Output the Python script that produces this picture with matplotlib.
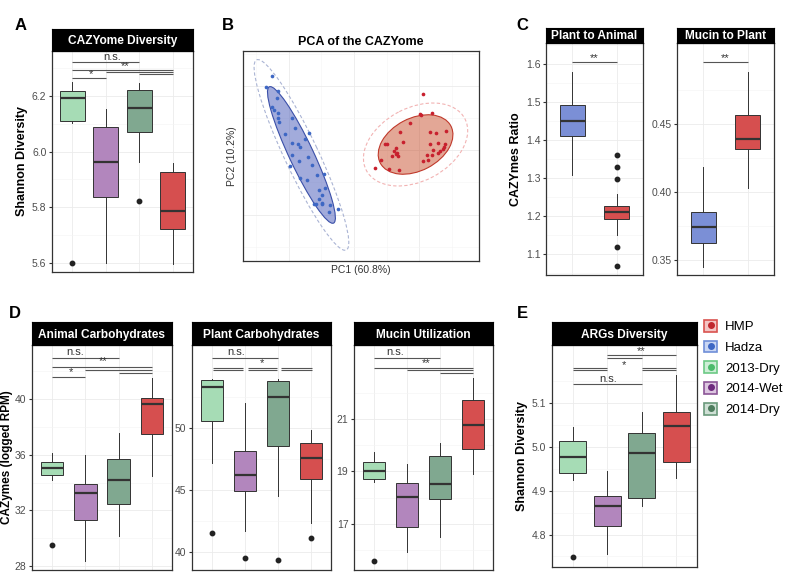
import numpy as np
import matplotlib
matplotlib.use('Agg')
import matplotlib.pyplot as plt
from matplotlib.patches import Ellipse, Patch
from matplotlib.lines import Line2D
from matplotlib.legend_handler import HandlerTuple

plt.rcParams['font.family'] = ['Liberation Sans', 'DejaVu Sans']

# ---- data ----
groups = ['2013-Dry', '2014-Wet', '2014-Dry', 'HMP']
group_colors = ['#a6dcb5', '#b286bd', '#80a890', '#d64f4f']
pair_colors = ['#7b8fd6', '#d64f4f']  # Hadza, HMP

# box stats: (whisker low, q1, median, q3, whisker high)
A_box = [(6.104, 6.110, 6.194, 6.218, 6.250), (5.600, 5.837, 5.963, 6.090, 6.153),
         (5.962, 6.070, 6.157, 6.220, 6.247), (5.595, 5.720, 5.785, 5.926, 5.958)]
A_out = [[5.599], [], [5.820], []]

C1_box = [(1.307, 1.411, 1.449, 1.493, 1.578), (1.151, 1.193, 1.211, 1.228, 1.258)]
C1_out = [[], [1.361, 1.328, 1.298, 1.118, 1.069]]
C2_box = [(0.3454, 0.3625, 0.3744, 0.3852, 0.4187), (0.4033, 0.4314, 0.4392, 0.4568, 0.4877)]
C2_out = [[], []]

D1_box = [(34.18, 34.54, 35.02, 35.50, 36.10), (28.38, 31.31, 33.27, 33.87, 35.98),
          (30.16, 32.46, 34.16, 35.69, 37.58), (34.47, 37.49, 39.62, 40.10, 41.53)]
D1_out = [[29.49], [], [], []]
D2_box = [(47.15, 50.51, 53.25, 53.87, 53.92), (41.68, 44.91, 46.24, 48.13, 51.95),
          (44.53, 48.56, 52.48, 53.73, 53.95), (42.35, 45.87, 47.55, 48.80, 49.81)]
D2_out = [[41.57], [39.55], [39.41], [41.15]]
D3_box = [(18.60, 18.69, 19.02, 19.34, 19.75), (15.91, 16.87, 18.02, 18.56, 19.27),
          (16.49, 17.96, 18.50, 19.58, 20.09), (18.89, 19.86, 20.76, 21.72, 22.56)]
D3_out = [[15.59], [], [], []]

E_box = [(4.925, 4.941, 4.977, 5.014, 5.046), (4.756, 4.820, 4.864, 4.888, 4.945),
         (4.866, 4.884, 4.986, 5.032, 5.078), (4.929, 4.966, 5.047, 5.078, 5.164)]
E_out = [[4.749], [], [], []]

# significance brackets: (x from, x to, y) and labels (x, y, text)
A_lines = [(1, 3, 6.3236), (1, 4, 6.2937), (2, 4, 6.2865), (3, 4, 6.278), (1, 2, 6.2638)]
A_text = [(2.19, 6.339, 'n.s.'), (2.57, 6.309, '**'), (1.56, 6.279, '*')]
C1_lines = [(1, 2, 1.605)]
C1_text = [(1.5, 1.616, '**')]
C2_lines = [(1, 2, 0.4952)]
C2_text = [(1.5, 0.4982, '**')]
D1_lines = [(1, 3, 42.92), (1, 4, 42.32), (2, 4, 42.08), (3, 4, 41.85), (1, 2, 41.58)]
D1_text = [(1.69, 43.40, 'n.s.'), (2.52, 42.73, '**'), (1.58, 41.96, '*')]
D2_lines = [(1, 3, 55.57), (1.04, 1.93, 54.82), (1.04, 1.93, 54.63), (2.08, 2.97, 54.82),
            (2.08, 2.97, 54.63), (3.08, 4.02, 54.82), (3.08, 4.02, 54.63)]
D2_text = [(1.74, 56.10, 'n.s.'), (2.52, 55.17, '*')]
D3_lines = [(1, 3, 23.32), (1, 4, 22.96), (2, 4, 22.87), (3, 4, 22.75)]
D3_text = [(1.65, 23.57, 'n.s.'), (2.58, 23.13, '**')]
E_lines = [(2, 4, 5.2088), (2, 3, 5.2027), (1, 2, 5.179), (1, 2, 5.1755),
           (3, 4, 5.179), (3, 4, 5.1755), (1, 3, 5.143)]
E_text = [(2.99, 5.2187, '**'), (2.48, 5.186, '*'), (2.03, 5.154, 'n.s.')]

# PCA scores
hadza_pc1 = [-4.42, -4.69, -4.12, -4.14, -4.39, -4.32, -4.12, -4.09, -4.05, -3.39, -3.27, -3.77,
             -2.55, -2.75, -3.40, -3.12, -2.99, -3.39, -2.62, -3.05, -2.42, -3.52, -2.14, -1.79,
             -2.99, -2.64, -2.05, -1.75, -1.89, -2.04, -1.92, -2.30, -2.19, -1.89, -1.52, -1.09, -1.55]
hadza_pc2 = [3.97, 3.42, 3.20, 2.84, 2.42, 2.25, 2.09, 1.87, 1.64, 1.84, 1.34, 1.05,
             1.09, 0.79, 0.62, 0.55, 0.39, 0.00, -0.09, -0.30, -0.50, -0.54, -1.00, -0.97,
             -1.14, -1.25, -1.75, -1.64, -2.00, -2.20, -2.42, -2.47, -2.47, -2.47, -2.50, -2.72, -2.84]
hmp_pc1 = [3.17, 3.00, 3.03, 3.60, 2.50, 2.00, 3.50, 3.80, 4.30, 2.13, 1.25, 1.37, 1.80, 1.72,
           1.83, 1.78, 1.58, 1.88, 3.50, 3.88, 4.25, 4.20, 3.67, 4.00, 3.88, 4.17, 3.37, 3.58,
           3.17, 3.38, 1.05, 0.75, 1.45, 1.93]
hmp_pc2 = [3.04, 2.05, 1.99, 2.10, 1.62, 1.14, 1.17, 1.09, 1.22, 0.65, 0.54, 0.54, 0.34, 0.22,
           0.12, 0.05, -0.05, -0.05, 0.54, 0.59, 0.54, 0.42, 0.25, 0.22, 0.12, 0.32, 0.00, 0.00,
           -0.30, -0.25, -0.25, -0.67, -0.70, -0.75]

legend_names = ['HMP', 'Hadza', '2013-Dry', '2014-Wet', '2014-Dry']
legend_edge = ['#d9534f', '#6f8fd8', '#6cc985', '#8b5596', '#6b9a7b']
legend_fill = ['#f3c4c3', '#c9d6f3', '#cdeed6', '#dcc6e0', '#cfe0d5']
legend_dot = ['#c0272d', '#3d67c4', '#4cbb6c', '#6e2b7e', '#4e7d5e']

W, H = 800, 580
fig = plt.figure(figsize=(8, 5.8), dpi=100)


def px_axes(x0, y0, x1, y1):
    return fig.add_axes([x0 / W, 1 - y1 / H, (x1 - x0) / W, (y1 - y0) / H])


def add_strip(x0, y0, x1, y1, title):
    s = px_axes(x0, y0, x1, y1)
    s.set_facecolor('black')
    s.set_xticks([])
    s.set_yticks([])
    for sp in s.spines.values():
        sp.set_color('black')
    s.text(0.5, 0.45, title, color='white', fontweight='bold', fontsize=8.6,
           ha='center', va='center', transform=s.transAxes)


def box_panel(rect, strip_top, title, box, out, colors, width, ylim, yticks, yfmt, lines, labels):
    x0, y0, x1, y1 = rect
    ax = px_axes(x0, y0, x1, y1)
    add_strip(x0, strip_top, x1, y0, title)
    n = len(box)
    stats = [dict(whislo=b[0], q1=b[1], med=b[2], q3=b[3], whishi=b[4], fliers=f)
             for b, f in zip(box, out)]
    art = ax.bxp(stats, positions=range(1, n + 1), widths=width, patch_artist=True,
                 showcaps=False,
                 boxprops=dict(edgecolor='#333333', linewidth=0.7),
                 whiskerprops=dict(color='#333333', linewidth=0.7),
                 medianprops=dict(color='#333333', linewidth=1.6),
                 flierprops=dict(marker='o', markersize=3.2, markerfacecolor='#222222',
                                 markeredgecolor='#222222'))
    for p, c in zip(art['boxes'], colors):
        p.set_facecolor(c)
    for xa, xb, y in lines:
        ax.plot([xa, xb], [y, y], color='#555555', lw=0.8, solid_capstyle='butt')
    for x, y, t in labels:
        ax.text(x, y, t, ha='center', va='center', fontsize=8, color='#333333')

    ax.set_xlim(0.4, n + 0.6)
    ax.set_ylim(*ylim)
    ax.set_yticks(yticks)
    ax.set_yticklabels([yfmt.format(t) for t in yticks])
    step = yticks[1] - yticks[0]
    minor = [m for m in np.arange(yticks[0] - step / 2, ylim[1], step) if ylim[0] < m < ylim[1]]
    ax.set_yticks(minor, minor=True)
    ax.set_xticks(range(1, n + 1))
    ax.set_xticklabels([])
    ax.tick_params(axis='x', length=0)
    ax.tick_params(axis='y', which='major', length=2.5, color='#333333', labelsize=7.5,
                   labelcolor='#4d4d4d', pad=1.5)
    ax.tick_params(axis='y', which='minor', length=0)
    ax.grid(True, which='major', color='#ebebeb', lw=0.6)
    ax.grid(True, which='minor', axis='y', color='#f4f4f4', lw=0.4)
    ax.set_axisbelow(True)
    for sp in ax.spines.values():
        sp.set_color('#333333')
        sp.set_linewidth(0.9)
    return ax


# A
ax = box_panel((52, 51, 193, 272), 29, 'CAZYome Diversity', A_box, A_out, group_colors, 0.75,
               (5.566, 6.362), [5.6, 5.8, 6.0, 6.2], '{:.1f}', A_lines, A_text)
ax.set_ylabel('Shannon Diversity', fontweight='bold', fontsize=9, labelpad=3)

# B
ax = px_axes(243, 51, 479, 261)


def cov_ellipse(x, y, r, **kw):
    x, y = np.asarray(x), np.asarray(y)
    vals, vecs = np.linalg.eigh(np.cov(x, y))
    ang = np.degrees(np.arctan2(vecs[1, -1], vecs[0, -1]))
    return Ellipse((x.mean(), y.mean()), 2 * r * np.sqrt(vals[-1]), 2 * r * np.sqrt(vals[0]),
                   angle=ang, **kw)


for px, py, base, edge, dash, pt in [
        (hadza_pc1, hadza_pc2, '#4759b9', '#3a4fa8', '#aab4d4', '#3d67c4'),
        (hmp_pc1, hmp_pc2, '#c8502e', '#c0392b', '#f2b3b3', '#c8202e')]:
    ax.add_patch(cov_ellipse(px, py, 2.4, facecolor='none', edgecolor=dash, lw=0.8,
                             ls=(0, (3, 2))))
    ax.add_patch(cov_ellipse(px, py, 1.72, facecolor=base, alpha=0.5, edgecolor='none'))
    ax.add_patch(cov_ellipse(px, py, 1.72, facecolor='none', edgecolor=edge, lw=0.8))
    ax.scatter(px, py, s=7, color=pt, zorder=3, linewidths=0)
ax.set_xlim(-5.85, 5.95)
ax.set_ylim(-5.3, 5.2)
ax.set_xticks([-3.55, -0.3, 2.95])
ax.set_xticks([-5.18, -1.93, 1.33, 4.58], minor=True)
ax.set_yticks([-3.0, 0.25, 3.45])
ax.set_yticks([-4.62, -1.37, 1.87, 5.07], minor=True)
ax.tick_params(which='both', length=0, labelbottom=False, labelleft=False)
ax.grid(True, which='major', color='#ebebeb', lw=0.6)
ax.grid(True, which='minor', color='#f5f5f5', lw=0.4)
ax.set_axisbelow(True)
for sp in ax.spines.values():
    sp.set_color('#333333')
    sp.set_linewidth(0.9)
ax.set_title('PCA of the CAZYome', fontweight='bold', fontsize=9, pad=4)
ax.set_xlabel('PC1 (60.8%)', fontsize=7.5, labelpad=3, color='#333333')
ax.set_ylabel('PC2 (10.2%)', fontsize=7.5, labelpad=4, color='#333333')

# C
ax = box_panel((546, 43, 643, 275), 28, 'Plant to Animal', C1_box, C1_out, pair_colors, 0.57,
               (1.0455, 1.655), [1.1, 1.2, 1.3, 1.4, 1.5, 1.6], '{:.1f}', C1_lines, C1_text)
ax.set_ylabel('CAZYmes Ratio', fontweight='bold', fontsize=9, labelpad=3)
box_panel((677, 43, 774, 275), 28, 'Mucin to Plant', C2_box, C2_out, pair_colors, 0.57,
          (0.3393, 0.5092), [0.35, 0.40, 0.45], '{:.2f}', C2_lines, C2_text)

# D
ax = box_panel((32, 345, 172, 570), 322, 'Animal Carbohydrates', D1_box, D1_out, group_colors,
               0.68, (27.72, 43.88), [28, 32, 36, 40], '{:d}', D1_lines, D1_text)
ax.set_ylabel('CAZymes (logged RPM)', fontweight='bold', fontsize=8.5, labelpad=1)
box_panel((192, 345, 331, 570), 322, 'Plant Carbohydrates', D2_box, D2_out, group_colors,
          0.68, (38.58, 56.64), [40, 45, 50], '{:d}', D2_lines, D2_text)
box_panel((354, 345, 493, 570), 322, 'Mucin Utilization', D3_box, D3_out, group_colors,
          0.68, (15.23, 23.83), [17, 19, 21], '{:d}', D3_lines, D3_text)

# E
ax = box_panel((552, 345, 697, 567), 322, 'ARGs Diversity', E_box, E_out, group_colors, 0.78,
               (4.726, 5.2317), [4.8, 4.9, 5.0, 5.1], '{:.1f}', E_lines, E_text)
ax.set_ylabel('Shannon Diversity', fontweight='bold', fontsize=9, labelpad=3)

# legend
lax = px_axes(704, 320, 800, 420)
lax.axis('off')
handles = [(Patch(facecolor=f, edgecolor=e, linewidth=1.2),
            Line2D([], [], marker='o', ls='', color=d, markersize=4))
           for f, e, d in zip(legend_fill, legend_edge, legend_dot)]
lax.legend(handles, legend_names, loc='upper left', frameon=False, fontsize=9.5,
           handlelength=1.0, handleheight=1.0, handletextpad=0.6, labelspacing=0.55,
           borderaxespad=0, borderpad=0, handler_map={tuple: HandlerTuple(ndivide=1)})

# panel letters
for (x, y), letter in zip([(21, 26), (228, 25), (522, 25), (15, 313), (522, 313)], 'ABCDE'):
    fig.text(x / W, 1 - y / H, letter, fontsize=12, fontweight='bold', ha='center', va='center')

fig.savefig('out.png', dpi=100)
